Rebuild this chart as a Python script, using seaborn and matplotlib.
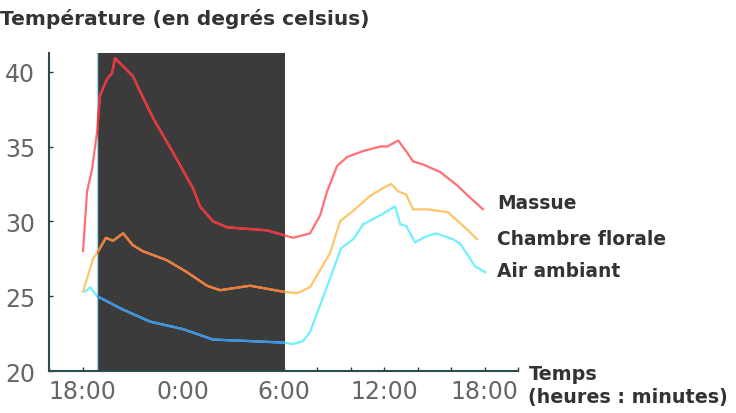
import pandas as pd
import matplotlib
matplotlib.use("Agg")
import matplotlib.pyplot as plt
from matplotlib.ticker import MultipleLocator, FixedLocator, FixedFormatter
import seaborn as sns

# Heures depuis minuit du premier jour (24 = 0:00 le lendemain)
massue_h = [18.03, 18.27, 18.57, 18.87, 19.04, 19.46, 19.76, 19.94, 21.01, 21.43,
            22.21, 23.40, 24.60, 25.01, 25.79, 26.63, 29.01, 30.57, 31.58, 32.18,
            32.60, 33.19, 33.79, 34.75, 35.76, 36.18, 36.84, 37.37, 37.73, 38.33,
            39.34, 40.36, 41.31, 41.91]
massue_t = [28.0, 32.0, 33.5, 36.0, 38.4, 39.5, 39.9, 40.9, 39.7, 38.7,
            36.9, 34.6, 32.2, 31.0, 30.0, 29.6, 29.4, 28.9, 29.2, 30.4,
            32.0, 33.7, 34.3, 34.7, 35.0, 35.0, 35.4, 34.6, 34.0, 33.8,
            33.3, 32.4, 31.4, 30.8]

chambre_h = [18.03, 18.63, 18.93, 19.40, 19.82, 20.42, 21.01, 21.61, 23.04, 24.24,
             25.43, 26.21, 28.00, 29.97, 30.81, 31.58, 32.78, 33.37, 34.15, 35.16,
             36.06, 36.42, 36.84, 37.31, 37.73, 38.63, 39.82, 40.42, 41.01, 41.55]
chambre_t = [25.3, 27.5, 28.0, 28.9, 28.7, 29.2, 28.4, 28.0, 27.4, 26.6,
             25.7, 25.4, 25.7, 25.3, 25.2, 25.6, 27.9, 30.0, 30.7, 31.7,
             32.3, 32.5, 32.0, 31.8, 30.8, 30.8, 30.6, 30.0, 29.4, 28.8]

air_h = [18.15, 18.45, 18.87, 20.42, 22.03, 24.00, 25.79, 28.00, 29.97, 30.57,
         31.16, 31.58, 32.78, 33.43, 34.15, 34.75, 35.76, 36.66, 36.96, 37.31,
         37.85, 38.51, 39.10, 40.12, 40.54, 41.43, 42.03]
air_t = [25.3, 25.6, 25.0, 24.1, 23.3, 22.8, 22.1, 22.0, 21.9, 21.8,
         22.0, 22.6, 26.2, 28.2, 28.8, 29.8, 30.4, 31.0, 29.8, 29.7,
         28.6, 29.0, 29.2, 28.8, 28.5, 27.0, 26.6]

series_names = ["Massue", "Chambre florale", "Air ambiant"]
day_colors = ["#ff6f73", "#ffc46a", "#6ff0ff"]
night_colors = ["#e8343c", "#ee7a3c", "#3d8fe6"]
label_y = [31.25, 28.85, 26.7]

night_start, night_end = 18.85, 30.1

frames = [
    pd.DataFrame({"heure": massue_h, "temp": massue_t}),
    pd.DataFrame({"heure": chambre_h, "temp": chambre_t}),
    pd.DataFrame({"heure": air_h, "temp": air_t}),
]

sns.set_style("white")
plt.rcParams["font.family"] = ["DejaVu Sans"]

fig = plt.figure(figsize=(7.36, 4.14), dpi=100)
ax = fig.add_axes([0.0666, 0.1014, 0.6374, 0.7682])

night = ax.axvspan(night_start, night_end, color="#3b3b3b", zorder=1, lw=0)
ax.axvline(night_start, color="#9fd8e0", lw=1, zorder=1.5)

for df, name, c_day, c_night in zip(frames, series_names, day_colors, night_colors):
    sns.lineplot(data=df, x="heure", y="temp", color=c_day, lw=1.6, ax=ax, zorder=2)
    sns.lineplot(data=df, x="heure", y="temp", color=c_night, lw=1.6, ax=ax, zorder=3)
    ax.lines[-1].set_clip_path(night)

for name, y in zip(series_names, label_y):
    ax.text(42.75, y, name, fontsize=13.4, fontweight="bold", color="#333333",
            va="center", ha="left", clip_on=False)

ax.set_xlim(16, 44)
ax.set_ylim(20, 41.25)
ax.xaxis.set_major_locator(FixedLocator([18, 24, 30, 36, 42]))
ax.xaxis.set_major_formatter(FixedFormatter(["18:00", "0:00", "6:00", "12:00", "18:00"]))
ax.xaxis.set_minor_locator(MultipleLocator(2))
ax.set_yticks([20, 25, 30, 35, 40])

ax.tick_params(axis="both", which="both", direction="in", length=3, width=1,
               color="#333333", labelsize=17, labelcolor="#666666")
ax.tick_params(axis="x", which="both", bottom=True, pad=6)
ax.tick_params(axis="y", left=True, pad=10)

for side in ["top", "right"]:
    ax.spines[side].set_visible(False)
for side in ["left", "bottom"]:
    ax.spines[side].set_color("#2f4a50")
    ax.spines[side].set_linewidth(1.5)

ax.set_xlabel("")
ax.set_ylabel("")

fig.text(0.0, 0.955, "Température (en degrés celsius)", fontsize=14.5, fontweight="bold",
         color="#333333", ha="left", va="center")
fig.text(0.718, 0.068, "Temps\n(heures : minutes)", fontsize=13.8, fontweight="bold",
         color="#333333", ha="left", va="center", linespacing=1.25)

fig.savefig("out.png", dpi=100)
